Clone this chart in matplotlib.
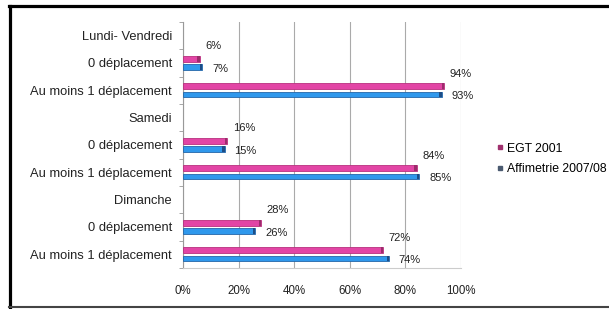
import matplotlib.pyplot as plt
from matplotlib.lines import Line2D

plt.rcParams['font.family'] = ['Liberation Sans', 'DejaVu Sans']

categories = ['Lundi- Vendredi', '0 déplacement', 'Au moins 1 déplacement',
              'Samedi', '0 déplacement', 'Au moins 1 déplacement',
              'Dimanche', '0 déplacement', 'Au moins 1 déplacement']
egt_2001 = [None, 6, 94, None, 16, 84, None, 28, 72]
affimetrie = [None, 7, 93, None, 15, 85, None, 26, 74]
series_names = ['EGT 2001', 'Affimetrie 2007/08']
x_ticks = [0, 20, 40, 60, 80, 100]

pink = '#e245a5'
pink_dark = '#9c2c6c'
blue = '#2f98ec'
blue_dark = '#1d4d86'

fig = plt.figure(figsize=(6.09, 3.09), dpi=100)
ax = fig.add_axes([0.3005, 0.1327, 0.4565, 0.7961])

h = 0.21
off = 0.155
for i, (p, b) in enumerate(zip(egt_2001, affimetrie)):
    if p is None:
        continue
    ax.barh(i - off, p, height=h, color=pink, edgecolor='#b8307e', linewidth=0.6, zorder=3)
    ax.barh(i - off, 0.8, left=p - 0.8, height=h, color=pink_dark, zorder=4)
    ax.barh(i + off, b, height=h, color=blue, edgecolor='#2466a8', linewidth=0.6, zorder=3)
    ax.barh(i + off, 0.8, left=b - 0.8, height=h, color=blue_dark, zorder=4)
    ax.annotate(f'{p}%', (p, i - off), xytext=(4, 9), textcoords='offset points',
                fontsize=8, va='center', ha='left', color='#222222')
    ax.annotate(f'{b}%', (b, i + off), xytext=(7, -1), textcoords='offset points',
                fontsize=8, va='center', ha='left', color='#222222')

ax.set_ylim(len(categories) - 0.5, -0.5)
ax.set_xlim(0, 100)
ax.set_yticks(range(len(categories)))
ax.set_yticklabels(categories, fontsize=9.3, color='#222222')
ax.set_yticks([k - 0.5 for k in range(len(categories) + 1)], minor=True)
ax.tick_params(axis='y', which='major', length=0, pad=8)
ax.tick_params(axis='y', which='minor', length=3, color='#999999')
ax.set_xticks(x_ticks)
ax.set_xticklabels([f'{t}%' for t in x_ticks], fontsize=8.3, color='#222222')
ax.tick_params(axis='x', length=0, pad=12)
ax.xaxis.grid(True, color='#aaaaaa', linewidth=0.8, zorder=0)
for s in ['top', 'right']:
    ax.spines[s].set_visible(False)
ax.spines['left'].set_color('#999999')
ax.spines['bottom'].set_color('#cccccc')

handles = [Line2D([], [], marker='s', linestyle='', markersize=3.5, color='#a0306e'),
           Line2D([], [], marker='s', linestyle='', markersize=3.5, color='#4a5a70')]
fig.legend(handles, series_names, loc='upper left', bbox_to_anchor=(0.805, 0.558),
           frameon=False, fontsize=8.8, handlelength=0.6, handletextpad=0.3,
           labelspacing=0.7, borderpad=0)

# frame of the pasted picture
fig.add_artist(Line2D([0.0148, 1.0], [0.9806, 0.9806], transform=fig.transFigure,
                      color='black', linewidth=2.3))
fig.add_artist(Line2D([0.0164, 0.0164], [0.9806, 0.0065], transform=fig.transFigure,
                      color='black', linewidth=2.3))
fig.add_artist(Line2D([0.0148, 1.0], [0.0065, 0.0065], transform=fig.transFigure,
                      color='#444444', linewidth=1.5))

fig.savefig('out.png', dpi=100)
